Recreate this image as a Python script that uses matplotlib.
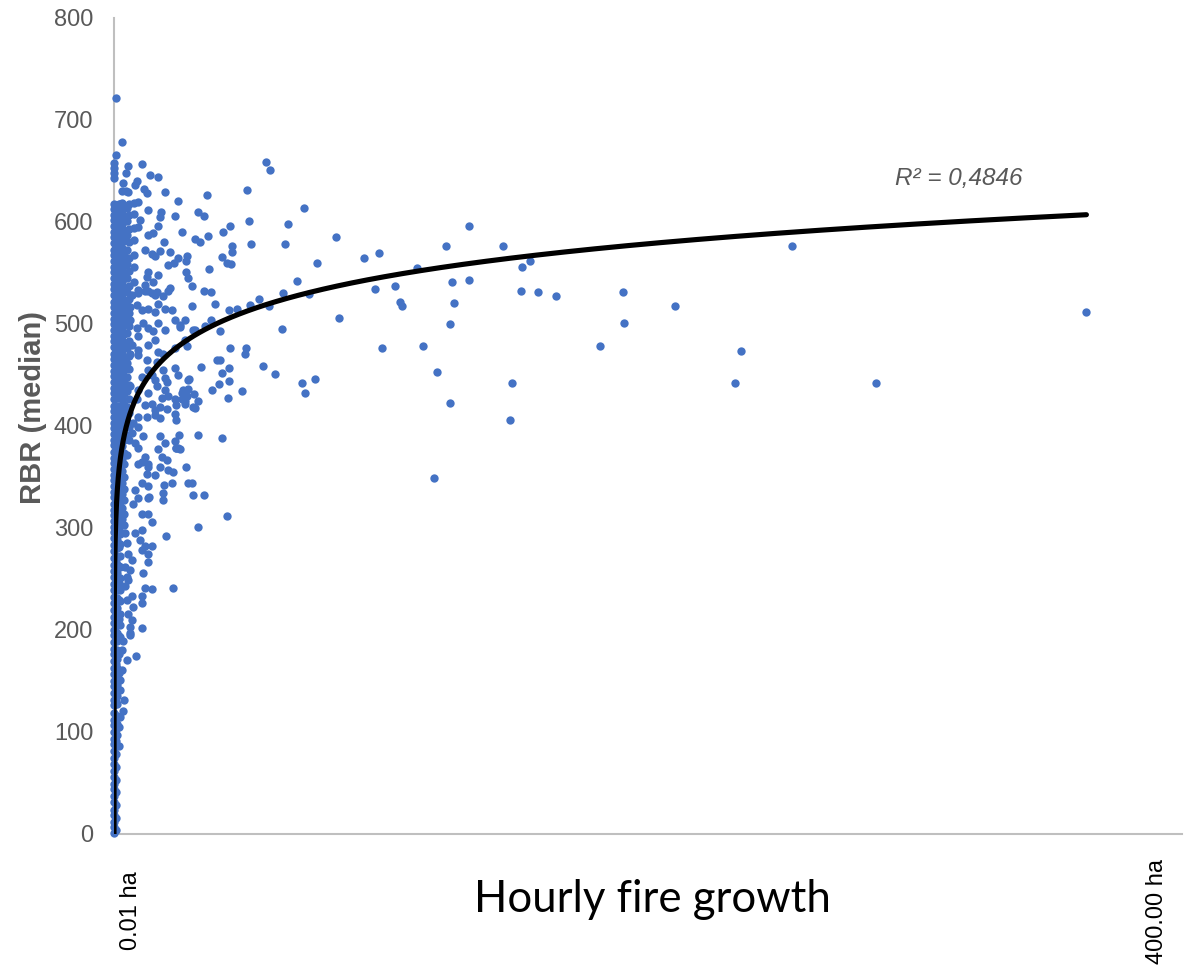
import numpy as np
import matplotlib.pyplot as plt

# RBR (median) against hourly fire growth (ha)
# scattered fires, growth > ~25 ha
far_points = [
    (364.2, 512), (285.5, 442), (253.8, 576), (235.0, 474), (232.5, 442), (210.0, 518),
    (191.0, 501), (190.7, 531), (181.9, 478), (165.4, 527), (158.7, 531), (155.9, 562),
    (152.8, 556), (152.5, 532), (149.2, 442), (148.4, 406), (145.8, 576), (133.0, 596),
    (132.9, 543), (127.2, 521), (126.7, 541), (125.8, 423), (125.7, 500), (124.2, 576),
    (121.1, 453), (120.0, 349), (115.7, 478), (113.5, 555), (107.7, 518), (107.1, 522),
    (105.3, 537), (100.4, 476), (99.4, 570), (97.9, 534), (93.7, 565), (84.1, 506),
    (83.0, 585), (76.0, 560), (75.4, 446), (72.9, 529), (71.6, 432), (71.2, 614),
    (70.3, 442), (68.5, 542), (65.3, 598), (64.2, 578), (63.4, 530), (62.8, 495),
    (60.2, 451), (58.4, 651), (58.2, 518), (56.9, 659), (55.8, 459), (54.3, 525),
    (51.2, 578), (51.0, 519), (50.4, 601), (49.7, 631), (49.3, 476), (48.9, 471),
    (48.0, 434), (46.1, 515), (44.3, 576), (44.3, 571), (43.9, 559), (43.3, 596),
    (43.3, 476), (43.1, 444), (43.0, 457), (42.9, 514), (42.6, 427), (42.2, 560),
    (42.2, 312), (40.7, 590), (40.6, 566), (40.3, 452), (40.3, 388), (39.8, 493),
    (39.8, 465), (39.4, 441), (38.6, 465), (37.8, 520), (36.8, 435), (36.3, 531),
    (36.3, 504), (35.6, 554), (35.2, 586), (34.8, 626), (34.1, 498), (33.7, 532),
    (33.6, 606), (33.6, 332), (32.7, 458), (32.2, 580), (31.6, 301), (31.5, 425),
    (31.5, 391), (31.3, 610), (30.3, 583), (30.3, 418), (30.2, 494), (29.8, 431),
    (29.5, 332), (29.2, 537), (29.2, 344), (29.1, 518), (28.2, 446), (27.8, 344),
    (27.7, 436), (27.6, 545), (27.5, 567), (27.2, 478), (27.0, 562), (27.0, 360),
    (26.8, 551), (26.5, 425), (25.5, 590), (25.5, 432), (24.7, 497),
]

# fires between ~1 and ~25 ha
mid_points = [
    (19.5, 292), (24.5, 391), (23.1, 378), (24.1, 378), (21.8, 344), (18.7, 342),
    (18.5, 334), (18.4, 327), (13.1, 330),
    (0.75, 722), (2.9, 678), (0.75, 666), (5.1, 655), (10.6, 657), (4.4, 648),
    (13.5, 646), (16.6, 644), (3.5, 638), (8.5, 640), (7.9, 636), (11.3, 632),
    (12.2, 628), (19.1, 629), (2.9, 630), (4.4, 630), (5.4, 629), (23.8, 621),
    (9.1, 620), (12.8, 612), (17.6, 610), (17.2, 605), (22.8, 606), (16.6, 596),
    (9.7, 602), (9.1, 595), (12.8, 587), (14.7, 589), (18.8, 580), (21.0, 571),
    (17.2, 572), (24.1, 565), (11.6, 573), (14.1, 569), (15.4, 567), (20.1, 558),
    (22.6, 560), (16.6, 548), (12.8, 551), (12.2, 546), (14.7, 541), (11.6, 538),
    (21.0, 535), (9.1, 533), (11.6, 532), (14.1, 530), (16.0, 531),
    (6.6, 528), (9.1, 530), (12.8, 532), (15.4, 528), (18.5, 527), (16.6, 520),
    (20.3, 532), (6.0, 517), (8.5, 519), (10.4, 514), (12.8, 515), (15.4, 512),
    (19.1, 515), (21.6, 514), (22.8, 504), (24.7, 499), (26.6, 504), (6.0, 504),
    (8.5, 496), (11.0, 501), (12.8, 496), (14.7, 493), (16.6, 501), (19.1, 494),
    (9.1, 488), (6.6, 479), (9.1, 475), (6.0, 471), (9.1, 470), (12.8, 479),
    (15.4, 484), (16.6, 473), (18.5, 471), (22.8, 476), (26.6, 484), (29.7, 494),
    (12.2, 465), (12.8, 455), (16.0, 463), (18.5, 455), (10.4, 448), (14.1, 450),
    (15.4, 445), (19.1, 447), (19.7, 443), (22.8, 457), (24.1, 450), (27.8, 445),
    (6.0, 439), (9.1, 435), (12.8, 432), (16.0, 439), (19.1, 435), (17.9, 427),
    (20.3, 429), (22.8, 426), (26.0, 435), (25.4, 426), (27.2, 429), (8.5, 426),
    (11.6, 421), (14.1, 422), (15.4, 416), (17.2, 419), (19.7, 417), (23.4, 421),
    (26.6, 422), (29.7, 419), (9.1, 409), (12.2, 409), (15.4, 411), (17.2, 408),
    (22.8, 412), (23.4, 406), (7.2, 403), (9.1, 399), (6.6, 393), (11.0, 390),
    (7.9, 383), (9.1, 378), (22.8, 385), (23.4, 378), (24.7, 377), (17.2, 390),
    (19.1, 383), (16.6, 377), (17.9, 370), (19.7, 367), (11.6, 370), (9.1, 363),
    (12.8, 363),
    (10.4, 365), (12.8, 360), (12.2, 353), (15.4, 352), (17.2, 360), (20.3, 357),
    (22.2, 355), (7.9, 337), (10.4, 344), (12.8, 341), (12.8, 329), (9.1, 329),
    (7.2, 324), (14.1, 306), (10.4, 298), (12.8, 314), (10.4, 314), (7.9, 295),
    (9.7, 288), (11.6, 282), (14.1, 282), (10.4, 278), (12.8, 275), (12.8, 267),
    (11.0, 256), (6.6, 269), (6.0, 259), (5.4, 249), (11.6, 241), (14.1, 240),
    (22.2, 241), (10.4, 233), (10.6, 226), (6.6, 233), (7.2, 223), (5.4, 216),
    (6.6, 210), (6.0, 203), (10.4, 202), (6.0, 197), (4.7, 229), (4.1, 243),
    (4.7, 252), (4.1, 262), (5.4, 275), (4.7, 285), (4.1, 295),
    (6.0, 195), (8.1, 175), (3.5, 189), (2.9, 180), (4.7, 171), (2.9, 161),
    (2.2, 151), (2.2, 141), (3.7, 131), (3.2, 121), (2.2, 115), (1.9, 105),
    (1.9, 86),
]

# very small fires packed against the axis: one growth value per strip
strip_growth = [0.1, 0.65, 1.2, 1.8, 2.4, 3.1, 3.8, 4.8, 5.8, 7.6]
strip_rbr_a = [1, 7, 12, 19, 24, 31, 37, 44, 49, 56, 62, 69, 75, 81, 88, 93, 100,
               107, 112, 119, 126, 131, 138, 145, 150, 157, 163, 170, 176, 181, 188,
               195, 200, 207, 213, 220, 226, 232, 239, 245, 252, 258, 264, 271, 277,
               283, 290, 296, 301, 307, 313, 318, 324, 330, 335, 341, 347, 352, 358,
               364, 369, 375, 381, 386, 392, 398, 403, 409, 415, 420, 426, 432, 437,
               443, 449, 454, 460, 466, 471, 477, 483, 488, 494, 500, 505, 511, 517,
               522, 528, 534, 539, 545, 551, 556, 562, 568, 573, 579, 585, 590, 596,
               602, 607, 613, 618, 643, 648, 653, 658]
strip_rbr_a2 = [4, 16, 28, 41, 53, 66, 78, 91, 103, 116, 129, 141, 154, 167, 179,
                192, 204, 217, 229, 242, 255, 267, 280, 292, 304, 316, 327, 338, 350,
                361, 372, 384, 395, 406, 418, 429, 440, 452, 463, 474, 486, 497, 508,
                520, 531, 542, 554, 565, 576, 588, 599, 610, 617]
strip_rbr_b = [97, 108, 116, 127, 135, 146, 154, 163, 172, 180, 189, 197, 206, 214,
               222, 231, 239, 247, 256, 264, 272, 280, 288, 296, 303, 309, 316, 323,
               329, 336, 342, 349, 355, 362, 368, 375, 381, 388, 394, 401, 407, 414,
               420, 427, 433, 440, 446, 453, 459, 466, 472, 479, 485, 492, 498, 505,
               511, 518, 524, 531, 537, 544, 550, 557, 563, 570, 576, 583, 589, 596,
               602, 609, 615]
strip_rbr_b2 = [158, 176, 194, 211, 229, 246, 263, 281, 298, 311, 325, 339, 352, 366,
                379, 393, 406, 420, 433, 447, 460, 474, 487, 501, 514, 528, 541, 555,
                568, 582, 595, 608, 618]
strip_rbr_c = [193, 205, 216, 228, 239, 251, 262, 273, 284, 294, 304, 313, 322, 331,
               340, 349, 357, 366, 375, 384, 392, 401, 410, 419, 427, 436, 445, 454,
               462, 471, 480, 489, 497, 506, 515, 524, 532, 541, 550, 559, 567, 576,
               585, 594, 602, 611, 618]
strip_rbr_c2 = [309, 320, 333, 344, 356, 368, 380, 392, 403, 415, 426, 438, 449, 461,
                472, 484, 495, 507, 518, 529, 541, 552, 564, 575, 586, 598, 609, 619]
strip_rbr_d = [303, 314, 327, 338, 350, 363, 374, 386, 398, 409, 421, 432, 444, 455,
               467, 478, 490, 501, 512, 524, 535, 547, 558, 570, 581, 592, 604, 615]
strip_rbr_d2 = [372, 391, 405, 419, 434, 448, 462, 476, 491, 505, 519, 531, 545, 559,
                573, 587, 601, 614]
strip_rbr_e = [386, 399, 413, 426, 440, 456, 469, 483, 498, 511, 525, 537, 552, 565,
               580, 593, 607, 618]
strip_rbr_f = [541, 556, 568, 582, 594, 608, 619]

# logarithmic trend y = a*ln(x) + b
trend_a = 47.5
trend_b = 327.0
r2_label = "R² = 0,4846"

y_ticks = [0, 100, 200, 300, 400, 500, 600, 700, 800]

# ---- collect points
gx, gy = [], []
for pts in (far_points, mid_points):
    for x, y in pts:
        gx.append(x)
        gy.append(y)
strips = [strip_rbr_a, strip_rbr_a2, strip_rbr_b, strip_rbr_b2, strip_rbr_c,
          strip_rbr_c2, strip_rbr_d, strip_rbr_d2, strip_rbr_e, strip_rbr_f]
for x, ys in zip(strip_growth, strips):
    gx += [x] * len(ys)
    gy += ys
gx = np.array(gx)
gy = np.array(gy)

fig = plt.figure(figsize=(12.01, 9.69), dpi=100)
ax = fig.add_axes([114 / 1201, 135 / 969, 1068 / 1201, 816 / 969])

ax.scatter(gx, gy, s=36, color="#4472C4", linewidths=0, zorder=3, clip_on=False)

x0 = np.exp(-trend_b / trend_a)
tx = np.geomspace(x0, gx.max(), 600)
ax.plot(tx, trend_a * np.log(tx) + trend_b, color="black", lw=3.7,
        solid_capstyle="round", zorder=4)

ax.set_xlim(0, 400)
ax.set_ylim(0, 800)
ax.set_yticks(y_ticks)
ax.tick_params(axis="y", length=0, pad=15, labelsize=17, labelcolor="#595959")
ax.set_xticks([])
for s in ("top", "right"):
    ax.spines[s].set_visible(False)
for s in ("left", "bottom"):
    ax.spines[s].set_color("#BFBFBF")
    ax.spines[s].set_linewidth(1.5)
for lab in ax.get_yticklabels():
    lab.set_family("Liberation Sans")

ax.text(292.5, 643, r2_label, fontsize=17.5, style="italic", color="#595959",
        family="Liberation Sans", ha="left", va="center")

fig.text(33 / 1201, 1 - 407 / 969, "RBR (median)", rotation=90, ha="center",
         va="center", fontsize=21, fontweight="bold", color="#595959",
         family="Liberation Sans")
fig.text(652 / 1201, 1 - 900 / 969, "Hourly fire growth", ha="center", va="center",
         fontsize=31.5, color="black", family="Lato")
fig.text(131 / 1201, 1 - 911 / 969, "0.01 ha", rotation=90, ha="center", va="center",
         fontsize=17, color="black", family="Liberation Sans")
fig.text(1157 / 1201, 1 - 912 / 969, "400.00 ha", rotation=90, ha="center",
         va="center", fontsize=17, color="black", family="Liberation Sans")

fig.savefig("out.png", dpi=100)
